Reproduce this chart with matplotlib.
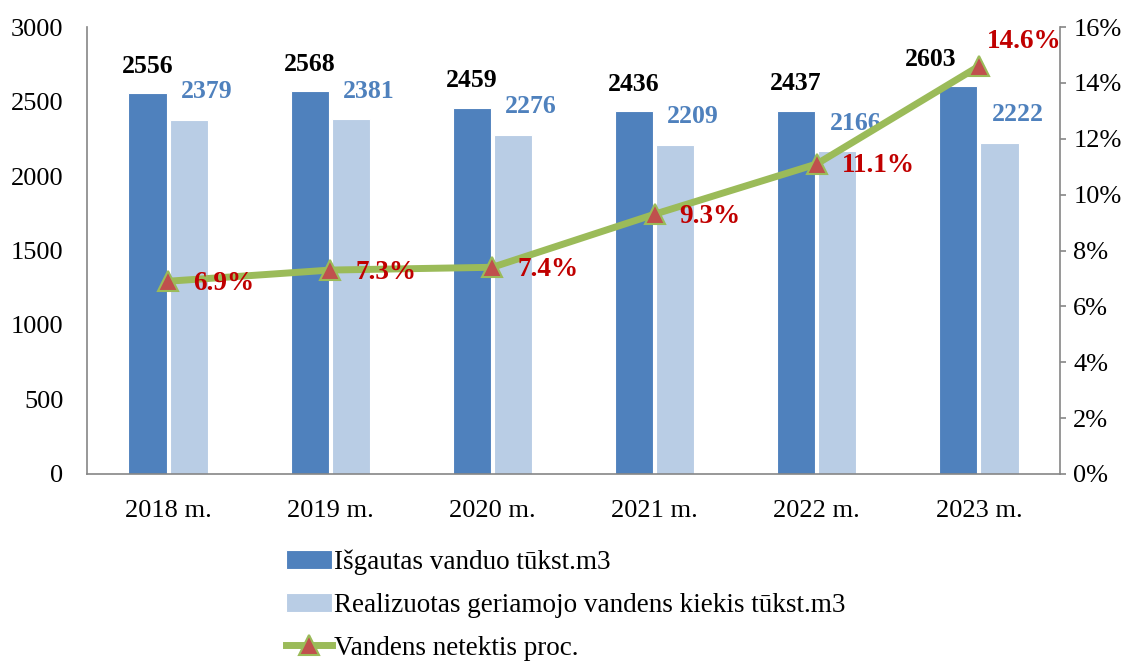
import numpy as np
import matplotlib.pyplot as plt
from matplotlib.ticker import FuncFormatter

# data
years = ["2018 m.", "2019 m.", "2020 m.", "2021 m.", "2022 m.", "2023 m."]
extracted = [2556, 2568, 2459, 2436, 2437, 2603]
sold = [2379, 2381, 2276, 2209, 2166, 2222]
loss_pct = [6.9, 7.3, 7.4, 9.3, 11.1, 14.6]

plt.rcParams['font.family'] = ['Liberation Serif', 'DejaVu Serif']

dark = '#4F81BD'
light = '#B9CDE5'
green = '#9BBB59'
red_mark = '#C0504D'
red_txt = '#C00000'
grey = '#868686'

fig = plt.figure(figsize=(11.33, 6.61), dpi=100)
ax = fig.add_axes([0.0768, 0.283, 0.8588, 0.676])
x = np.arange(len(years))
w = 0.235
off = 0.127

b1 = ax.bar(x - off, extracted, w, color=dark, edgecolor='white', linewidth=0.8,
            label="Išgautas vanduo tūkst.m3")
b2 = ax.bar(x + off, sold, w, color=light, edgecolor='white', linewidth=0.8,
            label="Realizuotas geriamojo vandens kiekis tūkst.m3")

ax.set_xlim(-0.5, len(years) - 0.5)
ax.set_ylim(0, 3000)
ax.set_yticks(range(0, 3001, 500))
ax.set_xticks(x)
ax.set_xticklabels(years)
ax.tick_params(axis='y', length=0, pad=17, labelsize=19)
ax.tick_params(axis='x', length=0, pad=19, labelsize=19)
for s in ['top', 'right']:
    ax.spines[s].set_visible(False)
for s in ['left', 'bottom']:
    ax.spines[s].set_color(grey)
    ax.spines[s].set_linewidth(1.2)

# value labels over bars
for i, v in enumerate(extracted):
    dx = -28 if i == len(extracted) - 1 else 0
    ax.annotate(str(v), (x[i] - off, v), xytext=(dx, 27), textcoords='offset pixels',
                ha='center', va='center', fontsize=18.5, fontweight='bold', color='black')
for i, v in enumerate(sold):
    ax.annotate(str(v), (x[i] + off, v), xytext=(18, 28), textcoords='offset pixels',
                ha='center', va='center', fontsize=18.5, fontweight='bold', color=dark)

ax2 = ax.twinx()
ax2.set_ylim(0, 16)
ax2.set_yticks(range(0, 17, 2))
ax2.yaxis.set_major_formatter(FuncFormatter(lambda v, p: f"{v:.0f}%"))
ax2.tick_params(axis='y', length=4.5, color=grey, width=1.2, pad=5, labelsize=19)
for s in ['top', 'left', 'bottom']:
    ax2.spines[s].set_visible(False)
ax2.spines['right'].set_color(grey)
ax2.spines['right'].set_linewidth(1.2)

ln, = ax2.plot(x, loss_pct, color=green, linewidth=5, marker='^', markersize=14,
               markerfacecolor=red_mark, markeredgecolor=green, markeredgewidth=1.5,
               label="Vandens netektis proc.")

for i, v in enumerate(loss_pct):
    if i == len(loss_pct) - 1:
        ax2.annotate(f"{v}%", (x[i], v), xytext=(8, 25), textcoords='offset pixels',
                     ha='left', va='center', fontsize=19.5, fontweight='bold', color=red_txt)
    else:
        ax2.annotate(f"{v}%", (x[i], v), xytext=(25, -2), textcoords='offset pixels',
                     ha='left', va='center', fontsize=19.5, fontweight='bold', color=red_txt)

fig.legend(handles=[b1, b2, ln], loc='upper left', bbox_to_anchor=(0.252, 0.169),
           frameon=False, fontsize=19.5, handlelength=1.7, handletextpad=0.1,
           labelspacing=0.66, borderaxespad=0, borderpad=0)

plt.savefig('out.png', dpi=100)
